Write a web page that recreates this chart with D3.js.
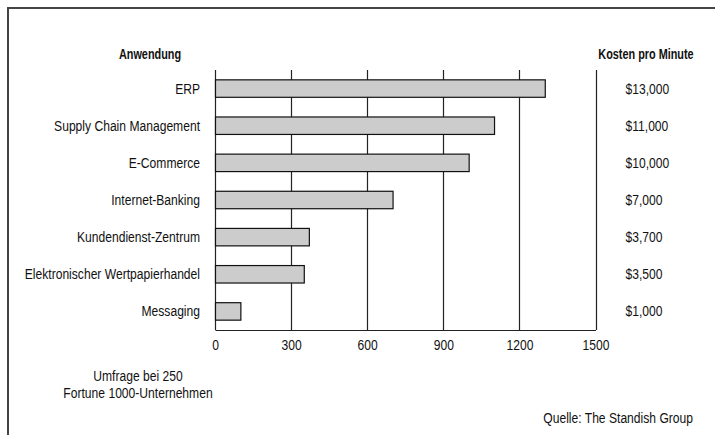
<!DOCTYPE html>
<html>
<head>
<meta charset="utf-8">
<script src="https://cdn.jsdelivr.net/npm/d3@7"></script>
<style>
  body { margin: 0; background: #fff; }
  svg text { font-family: "Liberation Sans", Arial, sans-serif; fill: #111; font-size: 14.5px; }
</style>
</head>
<body>
<div id="chart_container"></div>
<script>
// data
var anwendungen = ["ERP", "Supply Chain Management", "E-Commerce", "Internet-Banking",
  "Kundendienst-Zentrum", "Elektronischer Wertpapierhandel", "Messaging"];
var werte = [1300, 1100, 1000, 700, 370, 350, 100];
var kosten = ["$13,000", "$11,000", "$10,000", "$7,000", "$3,700", "$3,500", "$1,000"];
var xTicks = [0, 300, 600, 900, 1200, 1500];

var width = 715, height = 435;
var margin = {top: 70, left: 215, right: 119.5, bottom: 105};
var plotW = width - margin.left - margin.right,
    plotH = height - margin.top - margin.bottom;

// narrow look: squeeze Liberation Sans horizontally
var narrow = 0.835, narrowBold = 0.75;

function addText(parent, x, y, str, anchor, bold) {
  return parent.append("text")
    .attr("transform", "translate(" + x + "," + y + ") scale(" + (bold ? narrowBold : narrow) + ",1)")
    .style("text-anchor", anchor)
    .style("font-weight", bold ? "bold" : "normal")
    .text(str);
}

var svg = d3.select("#chart_container")
  .append("svg")
    .attr("width", width)
    .attr("height", height);

// frame (only top and left edge visible)
svg.append("path")
  .attr("d", "M8,435V8H715")
  .attr("fill", "none")
  .attr("stroke", "#444")
  .attr("stroke-width", 2);

var x = d3.scaleLinear().domain([0, 1500]).range([0, plotW]);
var y = d3.scaleBand().domain(anwendungen).range([0, plotH]).paddingInner(0.53).paddingOuter(0.265);

var g = svg.append("g")
  .attr("transform", "translate(" + margin.left + "," + margin.top + ")");

// vertical grid lines incl. left and right edges
g.selectAll(".grid")
  .data(xTicks)
.enter().append("line")
  .attr("class", "grid")
  .attr("x1", function(d) { return Math.round(x(d)) + 0.5; })
  .attr("x2", function(d) { return Math.round(x(d)) + 0.5; })
  .attr("y1", 0)
  .attr("y2", plotH)
  .attr("stroke", "#222")
  .attr("stroke-width", 1.2);

g.selectAll(".bar")
  .data(werte)
.enter().append("rect")
  .attr("class", "bar")
  .attr("x", x(0) + 0.5)
  .attr("y", function(d, i) { return y(anwendungen[i]); })
  .attr("width", function(d) { return x(d); })
  .attr("height", y.bandwidth())
  .attr("fill", "#cccccc")
  .attr("stroke", "#111")
  .attr("stroke-width", 1.2);

var xAxis = d3.axisBottom(x).tickValues(xTicks).tickSize(0).tickPadding(10)
  .tickFormat(d3.format("d"));
var ax = g.append("g")
  .attr("transform", "translate(0," + plotH + ")")
  .call(xAxis);
ax.attr("font-family", null).attr("font-size", null);
ax.select(".domain").attr("stroke", "#222").attr("stroke-width", 1.2);
ax.selectAll("text")
  .attr("fill", "#111")
  .attr("transform", "scale(" + narrow + ",1)");

// category labels
anwendungen.forEach(function(d) {
  addText(g, -15, y(d) + y.bandwidth() / 2 + 5, d, "end", false);
});

// cost column
kosten.forEach(function(d, i) {
  addText(g, plotW + 30, y(anwendungen[i]) + y.bandwidth() / 2 + 5, d, "start", false);
});

// headers
addText(svg, 150, 59, "Anwendung", "middle", true);
addText(svg, 646, 59, "Kosten pro Minute", "middle", true);

// notes
addText(svg, 138, 381, "Umfrage bei 250", "middle", false);
addText(svg, 138, 398, "Fortune 1000-Unternehmen", "middle", false);
addText(svg, 693, 423, "Quelle: The Standish Group", "end", false);
</script>
</body>
</html>
